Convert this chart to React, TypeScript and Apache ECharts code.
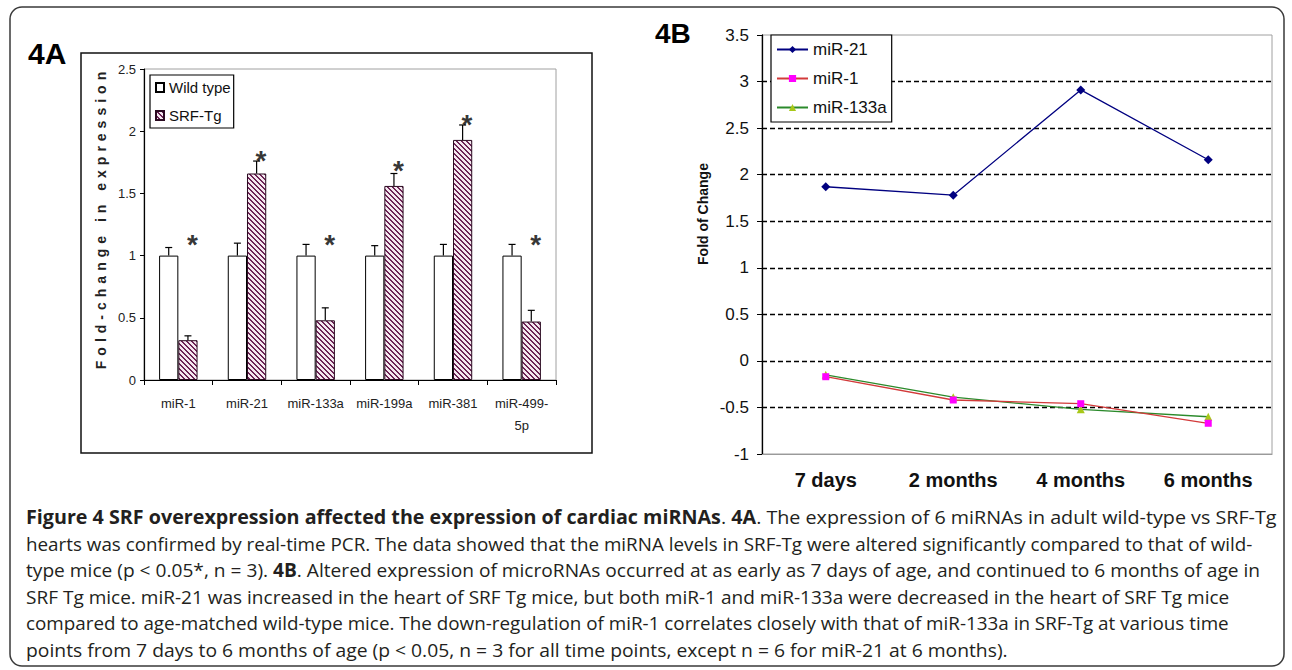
import React, { useEffect, useRef } from "react";
import * as echarts from "echarts";

// ---------- Panel 4A data ----------
const mirnaNames = ["miR-1", "miR-21", "miR-133a", "miR-199a", "miR-381", "miR-499-5p"];
const wildType = [1, 1, 1, 1, 1, 1];
const wildTypeErr = [0.065, 0.1, 0.09, 0.08, 0.09, 0.09];
const srfTg = [0.32, 1.66, 0.48, 1.56, 1.93, 0.47];
const srfTgErr = [0.035, 0.1, 0.1, 0.1, 0.12, 0.09];
const starLevels = [1.14, 1.81, 1.14, 1.73, 2.1, 1.14];
const foldMin = 0;
const foldMax = 2.5;
const foldStep = 0.5;

// ---------- Panel 4B data ----------
const timePoints = ["7 days", "2 months", "4 months", "6 months"];
const mir21 = [1.87, 1.78, 2.91, 2.16];
const mir1 = [-0.17, -0.42, -0.46, -0.67];
const mir133a = [-0.15, -0.39, -0.52, -0.6];
const changeMin = -1;
const changeMax = 3.5;
const changeStep = 0.5;

// ---------- Texts ----------
const labelA = "4A";
const labelB = "4B";
const yNameA = "Fold-change in expression";
const yNameB = "Fold of Change";
const captionLines = [
  "{b|Figure 4 SRF overexpression affected the expression of cardiac miRNAs}. {b|4A}. The expression of 6 miRNAs in adult wild-type vs SRF-Tg",
  "hearts was confirmed by real-time PCR. The data showed that the miRNA levels in SRF-Tg were altered significantly compared to that of wild-",
  "type mice (p < 0.05*, n = 3). {b|4B}. Altered expression of microRNAs occurred at as early as 7 days of age, and continued to 6 months of age in",
  "SRF Tg mice. miR-21 was increased in the heart of SRF Tg mice, but both miR-1 and miR-133a were decreased in the heart of SRF Tg mice",
  "compared to age-matched wild-type mice. The down-regulation of miR-1 correlates closely with that of miR-133a in SRF-Tg at various time",
  "points from 7 days to 6 months of age (p < 0.05, n = 3 for all time points, except n = 6 for miR-21 at 6 months).",
];
// layout: right edge of each caption line in the reference
const captionRightEdges = [1276, 1252, 1260, 1229, 1229, 1008];

const FONT = '"Liberation Sans", Arial, sans-serif';
const CAPTION_FONT = '"Open Sans", "Noto Sans", sans-serif';
const CAPTION_SIZE = 18.9;
const CAPTION_LEFT = 26;
const BAR_RATIO = 0.28;

function makeHatch(): HTMLCanvasElement {
  const n = 5;
  const c = document.createElement("canvas");
  c.width = n;
  c.height = n;
  const ctx = c.getContext("2d")!;
  ctx.fillStyle = "#f4e8ef";
  ctx.fillRect(0, 0, n, n);
  ctx.fillStyle = "#6d2456";
  for (let y = 0; y < n; y++) {
    for (let x = 0; x < n; x++) {
      if ((((x - y) % n) + n) % n < 2) ctx.fillRect(x, y, 1, 1);
    }
  }
  return c;
}

function measureRich(line: string, size: number): number {
  const ctx = document.createElement("canvas").getContext("2d");
  if (!ctx) return 0;
  const re = /\{b\|([^}]*)\}/g;
  let last = 0;
  let w = 0;
  let m: RegExpExecArray | null;
  while ((m = re.exec(line))) {
    ctx.font = `${size}px ${CAPTION_FONT}`;
    w += ctx.measureText(line.slice(last, m.index)).width;
    ctx.font = `bold ${size}px ${CAPTION_FONT}`;
    w += ctx.measureText(m[1]).width;
    last = re.lastIndex;
  }
  ctx.font = `${size}px ${CAPTION_FONT}`;
  w += ctx.measureText(line.slice(last)).width;
  return w;
}

export default function App() {
  const ref = useRef<HTMLDivElement>(null);

  useEffect(() => {
    if (!ref.current) return;
    const chart = echarts.init(ref.current, null, { renderer: "svg" });
    const hatch = makeHatch();
    const hatchFill: any = { image: hatch, repeat: "repeat", imageWidth: 5, imageHeight: 5 };

    const errorRender = (side: number) => (params: any, api: any) => {
      const cat = api.value(0);
      const v = api.value(1);
      const e = api.value(2);
      const base = api.coord([cat, v]);
      const top = api.coord([cat, v + e]);
      const band = api.size([1, 0])[0];
      const x = base[0] + (side * band * BAR_RATIO) / 2;
      const cap = 3.5;
      const st = { stroke: "#000", lineWidth: 1.2 };
      return {
        type: "group",
        children: [
          { type: "line", shape: { x1: x, y1: base[1], x2: x, y2: top[1] }, style: st },
          { type: "line", shape: { x1: x - cap, y1: top[1], x2: x + cap, y2: top[1] }, style: st },
        ],
      };
    };

    const captionGraphics = captionLines.map((line, i) => {
      const w = measureRich(line, CAPTION_SIZE);
      let sx = w > 0 ? (captionRightEdges[i] - CAPTION_LEFT) / w : 1;
      if (!isFinite(sx) || sx < 0.9 || sx > 1.1) sx = 1;
      return {
        type: "text",
        x: CAPTION_LEFT,
        y: 517 + i * 26.6,
        scaleX: sx,
        style: {
          text: line,
          font: `${CAPTION_SIZE}px ${CAPTION_FONT}`,
          fill: "#231f20",
          verticalAlign: "middle",
          align: "left",
          rich: { b: { fontWeight: "bold", fontSize: CAPTION_SIZE, fontFamily: CAPTION_FONT, fill: "#231f20" } },
        },
      };
    });

    const option: any = {
      animation: false,
      textStyle: { fontFamily: FONT },
      grid: [
        { left: 144, top: 69, width: 412, height: 311, show: true, borderColor: "#a0a0a0", borderWidth: 1, backgroundColor: "transparent" },
        { left: 762, top: 35, width: 510, height: 419, show: true, borderColor: "#a0a0a0", borderWidth: 1, backgroundColor: "transparent" },
      ],
      xAxis: [
        {
          type: "category",
          gridIndex: 0,
          data: mirnaNames,
          axisLine: { onZero: false, lineStyle: { color: "#000", width: 1.2 } },
          axisTick: { show: true, length: 5, lineStyle: { color: "#000" } },
          axisLabel: {
            interval: 0,
            fontSize: 13,
            color: "#222",
            margin: 12,
            lineHeight: 22,
            formatter: (v: string) => (v.length > 9 ? v.slice(0, 8) + "\n" + v.slice(8) : v),
          },
        },
        {
          type: "category",
          gridIndex: 1,
          data: timePoints,
          axisLine: { onZero: false, lineStyle: { color: "#9a9a9a", width: 1.2 } },
          axisTick: { show: false },
          axisLabel: { interval: 0, fontSize: 20, fontWeight: "bold", color: "#111", margin: 16, lineHeight: 20 },
        },
      ],
      yAxis: [
        {
          type: "value",
          gridIndex: 0,
          min: foldMin,
          max: foldMax,
          interval: foldStep,
          axisLine: { show: true, lineStyle: { color: "#000", width: 1.2 } },
          axisTick: { show: true, length: 4, lineStyle: { color: "#000" } },
          axisLabel: { fontSize: 13, color: "#222", margin: 8 },
          splitLine: { show: false },
        },
        {
          type: "value",
          gridIndex: 1,
          min: changeMin,
          max: changeMax,
          interval: changeStep,
          axisLine: { show: true, lineStyle: { color: "#000", width: 1.3 } },
          axisTick: { show: true, length: 5, lineStyle: { color: "#000" } },
          axisLabel: { fontSize: 17, color: "#111", margin: 13 },
          splitLine: { show: true, showMinLine: false, showMaxLine: false, lineStyle: { color: "#000", type: [5, 3], width: 1.4 } },
        },
      ],
      legend: [
        {
          data: ["Wild type", "SRF-Tg"],
          orient: "vertical",
          left: 150,
          top: 75,
          backgroundColor: "#fff",
          borderColor: "#000",
          borderWidth: 1.2,
          padding: [5, 3, 5, 5],
          itemWidth: 8,
          itemHeight: 9,
          itemGap: 13,
          icon: "rect",
          textStyle: { fontSize: 15, color: "#111", fontFamily: FONT },
        },
        {
          data: ["miR-21", "miR-1", "miR-133a"],
          orient: "vertical",
          left: 771,
          top: 35,
          backgroundColor: "#fff",
          borderColor: "#000",
          borderWidth: 1.2,
          padding: [6, 5, 6, 5],
          itemWidth: 31,
          itemHeight: 9,
          itemGap: 12,
          textStyle: { fontSize: 17, color: "#111", fontFamily: FONT },
        },
      ],
      series: [
        {
          name: "Wild type",
          type: "bar",
          xAxisIndex: 0,
          yAxisIndex: 0,
          data: wildType,
          barWidth: `${BAR_RATIO * 100}%`,
          barGap: "0%",
          itemStyle: { color: "#fff", borderColor: "#000", borderWidth: 1 },
        },
        {
          name: "SRF-Tg",
          type: "bar",
          xAxisIndex: 0,
          yAxisIndex: 0,
          data: srfTg,
          barWidth: `${BAR_RATIO * 100}%`,
          barGap: "0%",
          itemStyle: { color: hatchFill, borderColor: "#2a0a20", borderWidth: 1 },
        },
        {
          type: "custom",
          name: "wtErr",
          xAxisIndex: 0,
          yAxisIndex: 0,
          data: mirnaNames.map((_, i) => [i, wildType[i], wildTypeErr[i]]),
          renderItem: errorRender(-1),
          silent: true,
          z: 3,
        },
        {
          type: "custom",
          name: "srfErr",
          xAxisIndex: 0,
          yAxisIndex: 0,
          data: mirnaNames.map((_, i) => [i, srfTg[i], srfTgErr[i]]),
          renderItem: errorRender(1),
          silent: true,
          z: 3,
        },
        {
          type: "scatter",
          name: "significance",
          xAxisIndex: 0,
          yAxisIndex: 0,
          data: mirnaNames.map((_, i) => [i, starLevels[i]]),
          symbolSize: 1,
          itemStyle: { color: "rgba(0,0,0,0)" },
          silent: true,
          label: {
            show: true,
            formatter: "*",
            position: "inside",
            offset: [14, 6],
            fontSize: 28,
            fontWeight: "bold",
            color: "#000",
          },
          z: 4,
        },
        {
          name: "miR-133a",
          type: "line",
          xAxisIndex: 1,
          yAxisIndex: 1,
          data: mir133a,
          symbol: "triangle",
          symbolSize: 8,
          lineStyle: { color: "#2b8a2b", width: 1.3 },
          itemStyle: { color: "#a8c818" },
        },
        {
          name: "miR-1",
          type: "line",
          xAxisIndex: 1,
          yAxisIndex: 1,
          data: mir1,
          symbol: "rect",
          symbolSize: 7,
          lineStyle: { color: "#d23a3a", width: 1.3 },
          itemStyle: { color: "#ff00ff" },
        },
        {
          name: "miR-21",
          type: "line",
          xAxisIndex: 1,
          yAxisIndex: 1,
          data: mir21,
          symbol: "diamond",
          symbolSize: 9,
          lineStyle: { color: "#000080", width: 1.3 },
          itemStyle: { color: "#000080" },
        },
      ],
      graphic: [
        {
          type: "rect",
          shape: { x: 10, y: 7, width: 1274, height: 659, r: 12 },
          style: { fill: "none", stroke: "#3a3a3a", lineWidth: 1.5 },
          z: -1,
        },
        {
          type: "rect",
          shape: { x: 81, y: 53, width: 511, height: 400 },
          style: { fill: "none", stroke: "#111", lineWidth: 1.5 },
          z: -1,
        },
        {
          type: "text",
          x: 28,
          y: 53,
          style: { text: labelA, font: `bold 30px ${FONT}`, fill: "#000", verticalAlign: "middle", align: "left" },
        },
        {
          type: "text",
          x: 655,
          y: 33,
          style: { text: labelB, font: `bold 28px ${FONT}`, fill: "#000", verticalAlign: "middle", align: "left" },
        },
        {
          type: "text",
          x: 101,
          y: 218,
          rotation: Math.PI / 2,
          style: { text: yNameA, font: `bold 14px ${FONT}`, fill: "#222", verticalAlign: "middle", align: "center" },
        },
        {
          type: "text",
          x: 703,
          y: 214,
          rotation: Math.PI / 2,
          style: { text: yNameB, font: `bold 14px ${FONT}`, fill: "#111", verticalAlign: "middle", align: "center" },
        },
        ...captionGraphics,
      ],
    };

    chart.setOption(option);

    const svg = ref.current.querySelector("svg");
    if (svg) {
      svg.querySelectorAll("text").forEach((t) => {
        if (t.textContent === yNameA) (t as SVGTextElement).style.letterSpacing = "5px";
      });
    }

    return () => chart.dispose();
  }, []);

  return (
    <div
      ref={ref}
      style={{ position: "absolute", left: 0, top: 0, width: 1292, height: 670, background: "#fff" }}
    />
  );
}
